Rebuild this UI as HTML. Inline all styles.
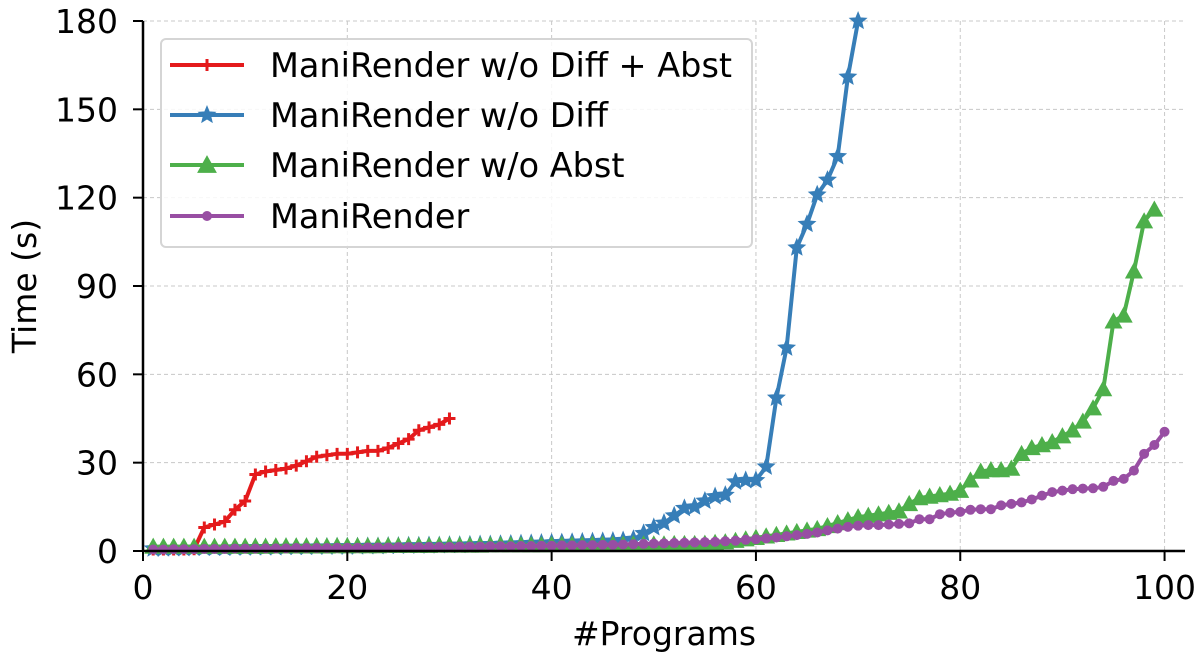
<!DOCTYPE html>
<html><head><meta charset="utf-8"><style>
html,body{margin:0;padding:0;background:#fff;}
svg{display:block;font-family:"DejaVu Sans","Liberation Sans",sans-serif;}
</style></head><body>
<svg id="chart" width="1202" height="667" viewBox="0 0 1202 667" xmlns="http://www.w3.org/2000/svg">
<g id="grid"></g>
<g id="series"></g>
<g id="axes"></g>
<g id="legend"></g>
</svg>
<script>
const xTicks = [0, 20, 40, 60, 80, 100];
const yTicks = [0, 30, 60, 90, 120, 150, 180];
const seriesNames = ["ManiRender w/o Diff + Abst", "ManiRender w/o Diff", "ManiRender w/o Abst", "ManiRender"];
const redValues = [0.5,0.5,0.5,0.5,0.6,8,9,10,14,17,26,27,27.5,28,29,30.5,32,32.5,33,33,33.5,34,34,35,36.5,38,41,42,43,45];
const blueValues = [0.8,0.8,0.9,0.9,1,1,1,1,1.1,1.1,1.2,1.2,1.2,1.3,1.3,1.3,1.4,1.4,1.5,1.5,1.5,1.6,1.6,1.7,1.7,1.8,1.8,1.9,1.9,2,2,2.1,2.2,2.2,2.3,2.4,2.5,2.6,2.7,2.8,2.9,3,3.1,3.2,3.3,3.4,3.6,4,6,8,9.5,12,14.5,15,17,18.5,19,23.5,24,24,28.6,52,69,103,111,121,126,134,161,180];
const greenValues = [1.5,1.5,1.5,1.5,1.5,1.5,1.5,1.5,1.5,1.5,1.5,1.5,1.6,1.6,1.6,1.6,1.6,1.6,1.7,1.7,1.7,1.7,1.7,1.8,1.8,1.8,1.8,1.8,1.9,1.9,1.9,1.9,1.9,2,2,2,2,2,2,2.1,2.1,2.1,2.1,2.2,2.2,2.2,2.2,2.3,2.3,2.3,2.3,2.4,2.4,2.4,2.5,2.8,3,3.5,4,4.5,5,5.5,6,6.5,7,7.5,8.5,9.5,10.5,11.5,12,12.5,13,13.5,16,18,18.5,19,19.5,20.5,24,27,27.5,27.5,28,33,35,36,37,39,41,44,48.5,55,78,80,95,112,116];
const purpleValues = [0.5,0.5,0.6,0.6,0.6,0.7,0.7,0.7,0.8,0.8,0.8,0.9,0.9,0.9,1,1,1,1,1.1,1.1,1.1,1.2,1.2,1.2,1.3,1.3,1.3,1.4,1.4,1.4,1.5,1.5,1.5,1.6,1.6,1.6,1.7,1.7,1.8,1.8,1.9,1.9,2,2,2.1,2.1,2.2,2.3,2.4,2.5,2.6,2.7,2.8,2.9,3,3.1,3.3,3.5,3.8,4,4.3,4.6,5,5.4,5.8,6.3,7,7.6,8.2,8.6,8.8,8.8,9,9.2,9.4,10.8,10.8,12.5,13,13.3,14,14.2,14.2,15.5,16,16.5,17.5,18.8,20,20.5,21,21.2,21.3,21.8,23.8,24.5,27.3,33,36,40.5];

const NS = "http://www.w3.org/2000/svg";
const X0 = 143, X1 = 1185, Y0 = 551, Y1 = 21;
const xMin = 0, xMax = 102, yMin = 0, yMax = 180;
function xs(v){ return X0 + (v - xMin) / (xMax - xMin) * (X1 - X0); }
function ys(v){ return Y0 - (v - yMin) / (yMax - yMin) * (Y0 - Y1); }
function mk(tag, attrs, parent){
  const e = document.createElementNS(NS, tag);
  for (const k in attrs) e.setAttribute(k, attrs[k]);
  parent.appendChild(e);
  return e;
}
const grid = document.getElementById('grid');
const axes = document.getElementById('axes');
const seriesG = document.getElementById('series');
const legend = document.getElementById('legend');

xTicks.forEach(t => {
  const l = mk('line', {x1: xs(t), x2: xs(t), y1: Y1, y2: Y0, stroke: '#c8c8c8', 'stroke-width': 1, 'stroke-dasharray': '4,3'}, grid);
  
  
  const tk = mk('line', {x1: xs(t), x2: xs(t), y1: Y0, y2: Y0 + 10, stroke: '#000', 'stroke-width': 2}, axes);
  
  
  const tx = mk('text', {x: xs(t), y: Y0 + 48, 'text-anchor': 'middle', 'font-size': 33, fill: '#000'}, axes);
  tx.textContent = t;
  
  
});
yTicks.forEach(t => {
  if (t > 0) {
    const l = mk('line', {x1: X0, x2: X1, y1: ys(t), y2: ys(t), stroke: '#c8c8c8', 'stroke-width': 1, 'stroke-dasharray': '4,3'}, grid);
    
    
  }
  const tk = mk('line', {x1: X0 - 10, x2: X0, y1: ys(t), y2: ys(t), stroke: '#000', 'stroke-width': 2}, axes);
  
  
  const tx = mk('text', {x: X0 - 25, y: ys(t) + 12, 'text-anchor': 'end', 'font-size': 33, fill: '#000'}, axes);
  tx.textContent = t;
  
  
});
const xAxis = mk('line', {x1: X0, x2: X1, y1: Y0, y2: Y0, stroke: '#000', 'stroke-width': 2.5}, axes);


const yAxis = mk('line', {x1: X0, x2: X0, y1: Y1, y2: Y0, stroke: '#000', 'stroke-width': 2.5}, axes);


const xt = mk('text', {x: 664, y: 645, 'text-anchor': 'middle', 'font-size': 33, fill: '#000'}, axes);
xt.textContent = '#Programs';


const yt = mk('text', {x: 0, y: 0, 'text-anchor': 'middle', 'font-size': 33, fill: '#000', transform: 'translate(36,' + ((Y0 + Y1) / 2) + ') rotate(-90)'}, axes);
yt.textContent = 'Time (s)';



function marker(kind, cx, cy, color, parent, scale){
  const s = scale || 1;
  let m;
  if (kind === 'plus') {
    const r = 6 * s;
    m = mk('path', {d: `M${cx - r},${cy}H${cx + r}M${cx},${cy - r}V${cy + r}`, stroke: color, 'stroke-width': 3, fill: 'none'}, parent);
  } else if (kind === 'star') {
    const pts = [];
    for (let i = 0; i < 10; i++) {
      const a = -Math.PI / 2 + i * Math.PI / 5;
      const r = (i % 2 ? 3.6 : 8) * s;
      pts.push((cx + r * Math.cos(a)).toFixed(1) + ',' + (cy + r * Math.sin(a)).toFixed(1));
    }
    m = mk('polygon', {points: pts.join(' '), fill: color, stroke: color, 'stroke-width': 1.5}, parent);
  } else if (kind === 'tri') {
    const r = 9 * s;
    m = mk('polygon', {points: `${cx},${cy - r} ${cx - r},${cy + r * 0.8} ${cx + r},${cy + r * 0.8}`, fill: color}, parent);
  } else {
    m = mk('circle', {cx: cx, cy: cy, r: 5 * s, fill: color}, parent);
  }
  return m;
}

const specs = [
  {vals: redValues, color: '#e41a1c', kind: 'plus', name: 'red'},
  {vals: blueValues, color: '#377eb8', kind: 'star', name: 'blue'},
  {vals: greenValues, color: '#4daf4a', kind: 'tri', name: 'green'},
  {vals: purpleValues, color: '#984ea3', kind: 'circle', name: 'purple'}
];
[0, 1, 2, 3].forEach(si => {
  const sp = specs[si];
  const g = mk('g', {}, seriesG);
  
  
  const d = sp.vals.map((v, i) => (i ? 'L' : 'M') + xs(i + 1).toFixed(1) + ',' + ys(v).toFixed(1)).join('');
  const p = mk('path', {d: d, fill: 'none', stroke: sp.color, 'stroke-width': 4, 'stroke-linejoin': 'round'}, g);
  
  
  sp.vals.forEach((v, i) => {
    const m = marker(sp.kind, xs(i + 1), ys(v), sp.color, g);
    
    
  });
});

const box = mk('rect', {x: 161, y: 39, width: 591, height: 208, rx: 5, fill: '#fff', 'fill-opacity': 0.85, stroke: '#d5d5d5', 'stroke-width': 2}, legend);


const legY = [65, 115, 165, 216];
specs.forEach((sp, i) => {
  const g = mk('g', {}, legend);
  
  
  mk('line', {x1: 170, x2: 244, y1: legY[i], y2: legY[i], stroke: sp.color, 'stroke-width': 4}, g);
  marker(sp.kind, 207, legY[i], sp.color, g, sp.kind === 'tri' ? 1.1 : 1);
  const t = mk('text', {x: 270, y: legY[i] + 12, 'font-size': 33.5, fill: '#000'}, g);
  t.textContent = seriesNames[i];
});
</script>
</body></html>
